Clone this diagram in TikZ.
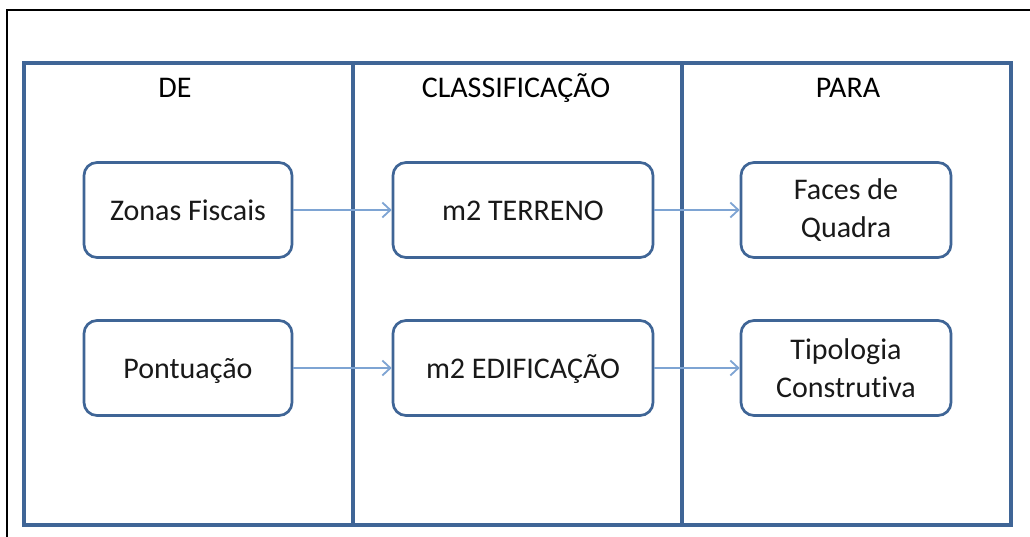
\documentclass[tikz,border=0pt]{standalone}
\usepackage{fontspec}
\setmainfont{Carlito}[Ligatures=NoCommon]
\usetikzlibrary{arrows.meta}
\definecolor{frameblue}{HTML}{3F6596}
\definecolor{arrowblue}{HTML}{7EA4D3}
\tikzset{
  box/.style={draw=frameblue, line width=2.7pt, rounded corners=13pt, fill=white,
    minimum width=208pt, minimum height=95pt, inner sep=0pt, align=center,
    font=\fontsize{30}{38}\selectfont, text=black!90},
  oneline/.style={text height=21pt, text depth=0pt},
  head/.style={font=\fontsize{30}{34}\selectfont, inner sep=0pt, anchor=base},
  link/.style={draw=arrowblue, line width=1.8pt, -{Straight Barb[length=8pt,width=15pt,line width=1.8pt]}},
}
\begin{document}
\begin{tikzpicture}[x=1pt,y=-1pt]
\clip (0,0) rectangle (1030,537);
\fill[white] (0,0) rectangle (1030,537);
\draw[black, line width=1.3pt] (7,560) -- (7,10) -- (1050,10);
\draw[frameblue, line width=4pt] (24,63) rectangle (1011,525);
\draw[frameblue, line width=4pt] (353,63) -- (353,525);
\draw[frameblue, line width=4pt] (682,63) -- (682,525);
\node[head] (de) at (175,98) {DE};
\node[head] (cl) at (516,98) {CLASSIFICAÇÃO};
\node[head] (pa) at (848,98) {PARA};
\node[box, oneline] (zf) at (188,210) {Zonas Fiscais};
\node[box, oneline] (po) at (188,368) {Pontuação};
\node[box, oneline, minimum width=260pt] (te) at (523,210) {m2 TERRENO};
\node[box, oneline, minimum width=260pt] (ed) at (523,368) {m2 EDIFICAÇÃO};
\node[box, minimum width=210pt] (fq) at (846,210) {Faces de\\Quadra};
\node[box, minimum width=210pt] (tc) at (846,368) {Tipologia\\Construtiva};
\draw[link] (zf.east) -- (te.west);
\draw[link] (po.east) -- (ed.west);
\draw[link] (te.east) -- (fq.west);
\draw[link] (ed.east) -- (tc.west);
\end{tikzpicture}
\end{document}
